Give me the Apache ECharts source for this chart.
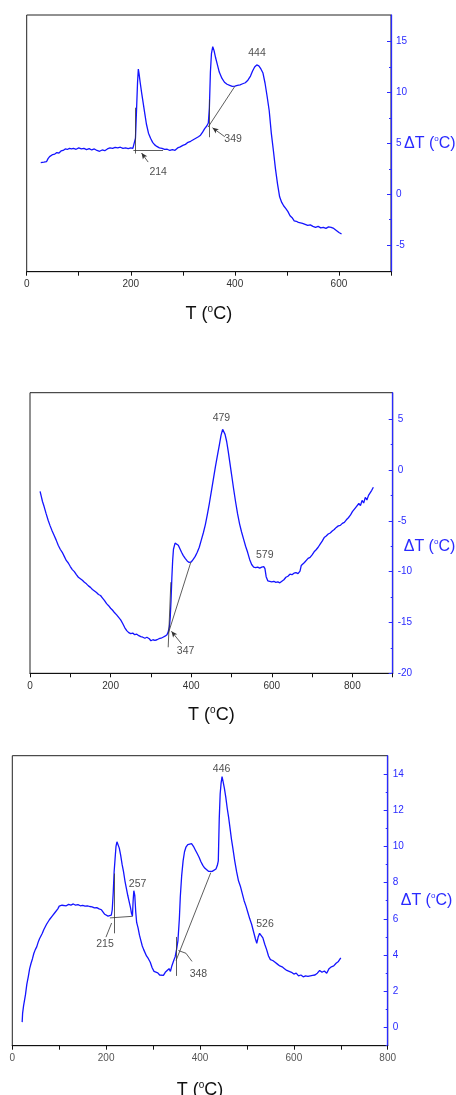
<!DOCTYPE html>
<html><head><meta charset="utf-8">
<script src="https://cdn.jsdelivr.net/npm/echarts@6/dist/echarts.min.js"></script>
<style>html,body{margin:0;padding:0;background:#fff}#c{width:456px;height:1095px}</style>
</head><body><div id="c"></div>
<script>
// ---------- Panel 1 ----------
const p1T = [27,30,33,36,38,41,44,47,50,54,58,62,66,70,74,78,82,86,90,95,100,105,110,115,120,125,130,135,140,145,150,155,160,165,170,175,180,185,190,195,200,204,207,209,211,213,214.5,216,218,221,224,227,230,234,238,242,246,250,255,260,265,270,275,280,285,290,295,300,305,310,315,320,325,330,334,338,342,346,349,351,353,355,357.5,360,363,366,370,375,380,385,390,395,400,405,410,415,420,425,430,434,438,442,446,450,454,458,462,466,470,474,478,482,486,490,494,498,502,506,510,514,518,522,526,530,535,540,545,550,555,560,565,570,575,580,585,590,595,600,605];
const p1DT = [3.1,3.2,3.15,3.3,3.2,3.5,3.7,3.65,3.9,3.95,4.1,4.05,4.25,4.3,4.45,4.4,4.5,4.45,4.5,4.42,4.55,4.45,4.5,4.38,4.48,4.35,4.45,4.3,4.22,4.35,4.28,4.45,4.55,4.5,4.6,4.55,4.62,4.5,4.55,4.48,4.55,4.5,4.6,5.5,8.2,11.0,12.3,11.8,11.0,9.9,8.9,7.9,6.9,6.0,5.5,5.1,4.85,4.7,4.55,4.5,4.4,4.42,4.3,4.38,4.32,4.55,4.65,4.8,4.9,5.1,5.2,5.35,5.5,5.65,5.8,6.1,6.45,6.7,7.0,8.5,12.0,13.8,14.5,14.1,13.4,12.8,12.0,11.4,11.0,10.8,10.7,10.6,10.62,10.7,10.75,10.85,10.95,11.2,11.6,12.1,12.5,12.7,12.6,12.3,11.9,10.9,9.6,8.2,6.0,4.3,2.5,1.0,-0.25,-0.8,-1.15,-1.4,-1.7,-2.1,-2.3,-2.6,-2.65,-2.75,-2.8,-2.85,-2.95,-3.05,-3.0,-3.15,-3.25,-3.15,-3.3,-3.25,-3.35,-3.2,-3.25,-3.35,-3.55,-3.75,-3.9];
const p1YMajor = [-5,0,5,10,15];
const p1YMinor = [-2.5,2.5,7.5,12.5];
const p1Segs = [
  [[205,4.35],[262,4.35],0],
  [[209.5,4.0],[209.5,8.5],0],
  [[233.4,3.16],[220.7,4.05],1],
  [[350,5.6],[350,9.3],0],
  [[348.6,6.6],[400,10.6],0],
  [[380.6,5.65],[357,6.53],1]
];
const p1Labels = [['214',252.6,2.2],['349',396.5,5.4],['444',442.6,13.9]];

// ---------- Panel 2 ----------
const p2T = [25,28,31,35,40,45,50,55,60,65,70,75,80,85,90,95,100,105,110,115,120,125,130,135,140,145,150,155,160,165,170,175,180,185,190,195,200,205,210,215,220,225,230,235,240,245,250,255,260,265,270,275,280,285,290,293,296,300,305,310,315,320,325,330,335,340,343,346,348,350,352,354,356,360,364,368,372,376,380,385,390,395,400,405,410,415,420,425,430,435,440,445,450,455,460,465,470,474,478,481,484,488,492,496,500,505,510,515,520,525,530,535,540,545,550,555,560,565,570,575,580,583,586,590,595,600,605,610,615,620,625,630,635,640,645,650,655,660,665,670,673,677,681,685,690,695,700,705,710,715,720,725,730,735,740,745,750,755,760,765,770,775,780,785,790,795,800,804,808,812,816,820,824,828,832,836,840,844,848,852];
const p2DT = [-2.1,-2.6,-3.1,-3.6,-4.3,-4.95,-5.5,-6.0,-6.45,-6.9,-7.4,-7.8,-8.1,-8.5,-8.9,-9.15,-9.5,-9.8,-10.0,-10.3,-10.55,-10.7,-10.85,-11.05,-11.2,-11.4,-11.55,-11.75,-11.9,-12.05,-12.25,-12.35,-12.6,-12.85,-13.15,-13.35,-13.6,-13.8,-14.05,-14.25,-14.5,-14.75,-15.1,-15.5,-15.8,-16.0,-16.1,-16.05,-16.2,-16.15,-16.3,-16.4,-16.45,-16.55,-16.45,-16.3,-16.6,-16.8,-16.7,-16.75,-16.7,-16.6,-16.55,-16.45,-16.35,-16.2,-15.9,-15.4,-14.5,-12.8,-10.6,-8.9,-7.8,-7.2,-7.1,-7.4,-7.75,-8.1,-8.4,-8.7,-8.95,-9.1,-9.05,-8.8,-8.5,-8.1,-7.6,-6.9,-6.2,-5.4,-4.4,-3.3,-2.1,-0.9,0.3,1.4,2.5,3.4,4.0,3.9,3.5,2.8,1.8,0.7,-0.4,-1.8,-3.1,-4.3,-5.3,-6.1,-6.8,-7.5,-8.1,-8.8,-9.3,-9.55,-9.6,-9.55,-9.65,-9.55,-9.5,-9.7,-10.5,-10.9,-10.95,-11.0,-10.95,-11.05,-11.0,-11.1,-10.95,-10.8,-10.55,-10.45,-10.25,-10.3,-10.15,-10.1,-10.2,-9.95,-9.4,-9.35,-9.1,-8.95,-8.7,-8.6,-8.35,-8.05,-7.85,-7.6,-7.3,-7.0,-6.65,-6.5,-6.3,-6.2,-6.0,-5.85,-5.65,-5.5,-5.45,-5.25,-5.15,-4.9,-4.7,-4.45,-4.1,-4.2,-3.7,-3.85,-3.3,-3.5,-3.0,-3.25,-2.7,-2.95,-2.5,-2.6,-2.0,-1.7];
const p2YMajor = [-20,-15,-10,-5,0,5];
const p2YMinor = [-17.5,-12.5,-7.5,-2.5,2.5];
const p2Segs = [
  [[342.9,-17.44],[349.5,-11.04],0],
  [[343,-16.1],[399,-9.08],0],
  [[376,-17.1],[351,-15.87],1]
];
const p2Labels = [['347',386,-17.77],['479',475,5.1],['579',582.5,-8.35]];

// ---------- Panel 3 ----------
const p3T = [21,22,24,26,28,31,34,37,40,43,46,49,52,55,58,61,64,67,70,73,76,79,82,85,88,91,94,97,100,103,106,110,115,120,125,130,135,140,145,150,155,160,165,170,175,180,185,190,194,197,200,204,208,211,213,215,217,219,221,223,225,228,231,234,237,240,243,246,249,252,254,256,257.5,259,261,263,265,268,271,274,277,280,283,286,290,294,298,302,306,310,314,318,322,326,330,334,337,340,344,347,350,353,356,358,361,364,367,370,374,378,382,386,390,394,398,402,406,410,414,418,422,426,430,434,437,439,441,443,445,447,449,452,455,458,461,464,467,470,474,478,482,486,490,494,498,502,506,510,514,518,521,524,527,530,534,538,542,546,550,555,560,565,570,575,580,585,590,595,600,605,610,615,620,625,630,635,640,645,650,655,660,665,670,675,680,685,690,695,700];
const p3DT = [0.3,0.8,1.2,1.5,1.8,2.4,2.8,3.25,3.55,3.8,4.1,4.3,4.45,4.7,4.9,5.05,5.2,5.4,5.5,5.7,5.8,5.95,6.0,6.15,6.2,6.35,6.3,6.55,6.7,6.6,6.75,6.8,6.72,6.8,6.76,6.82,6.75,6.78,6.72,6.74,6.7,6.72,6.68,6.66,6.6,6.62,6.55,6.5,6.4,6.25,6.3,6.15,6.1,6.2,6.5,7.4,8.6,9.3,10.0,10.25,10.2,9.9,9.5,9.0,8.6,8.1,7.7,7.3,6.95,6.6,6.3,6.15,7.0,7.55,7.3,6.4,5.8,5.5,5.1,4.8,4.5,4.3,4.2,3.95,3.8,3.6,3.3,3.1,3.0,3.02,2.9,2.98,2.88,3.05,3.0,3.25,3.1,3.4,3.7,3.9,4.3,4.8,6.0,7.2,8.4,9.2,9.7,9.95,10.1,10.05,10.15,10.0,9.8,9.6,9.4,9.15,8.95,8.8,8.7,8.62,8.6,8.62,8.6,8.75,8.95,9.2,11.5,12.9,13.5,13.85,13.6,13.2,12.7,12.1,11.6,11.0,10.4,9.9,9.2,8.6,8.1,7.8,7.4,7.0,6.7,6.35,6.0,5.7,5.3,4.9,4.65,5.0,5.2,5.1,4.95,4.6,4.3,3.95,3.75,3.7,3.6,3.5,3.4,3.35,3.25,3.15,3.1,3.05,2.95,3.0,2.85,2.9,2.8,2.85,2.82,2.85,2.88,2.9,3.0,3.15,3.05,3.12,3.0,3.25,3.35,3.4,3.55,3.65,3.85];
const p3YMajor = [0,2,4,6,8,10,12,14];
const p3YMinor = [-1,1,3,5,7,9,11,13];
const p3Segs = [
  [[208,6.05],[256.5,6.14],0],
  [[217.5,5.2],[217.5,8.5],0],
  [[199.6,4.99],[211.7,5.77],0],
  [[348.5,2.85],[348.5,5.0],0],
  [[349,3.7],[423,8.55],0],
  [[354,4.25],[370,4.1],0],
  [[370,4.1],[383,3.65],0]
];
const p3Labels = [['215',197.5,4.59],['257',267,7.92],['348',396.6,2.96],['446',446,14.28],['526',538.6,5.73]];

// ---------- build ----------
const FONT = 'Liberation Sans, Arial, sans-serif';
const BLUE = '#2a2aff';
const panels = [
  {T:p1T, D:p1DT, xmax:700, ymin:-7.6, ymax:17.6, maj:p1YMajor, min:p1YMinor, segs:p1Segs, labels:p1Labels,
   grid:{left:26.7, top:15, width:364.3, height:256.7}, yGap:13, yPad:[0,0,0,0], xGap:33, xLabelColor:'#333'},
  {T:p2T, D:p2DT, xmax:900, ymin:-20, ymax:7.6, maj:p2YMajor, min:p2YMinor, segs:p2Segs, labels:p2Labels,
   grid:{left:30, top:392.7, width:362.7, height:280.6}, yGap:11, yPad:[27,0,0,0], xGap:32, xLabelColor:'#333'},
  {T:p3T, D:p3DT, xmax:800, ymin:-1, ymax:15, maj:p3YMajor, min:p3YMinor, segs:p3Segs, labels:p3Labels,
   grid:{left:12.3, top:755.7, width:375.4, height:290}, yGap:13, yPad:[0,0,0,0], xGap:35, xLabelColor:'#555'}
];

const option = {animation:false, backgroundColor:'#fff', grid:[], xAxis:[], yAxis:[], series:[]};
panels.forEach((p, i) => {
  option.grid.push(Object.assign({show:true, borderColor:'#222', borderWidth:1, containLabel:false, outerBoundsMode:'none'}, p.grid));
  option.xAxis.push({
    gridIndex:i, type:'value', min:0, max:p.xmax, interval:100,
    axisLine:{onZero:false, lineStyle:{color:'#111', width:1.2}},
    axisTick:{inside:false, length:4, lineStyle:{color:'#111'}},
    axisLabel:{formatter:v => (v % 200 === 0 ? String(v) : ''), fontSize:10, color:p.xLabelColor, margin:8, fontFamily:FONT},
    splitLine:{show:false},
    name:'T ({s|o}C)', nameLocation:'middle', nameGap:p.xGap, nameMoveOverlap:false,
    nameTextStyle:{fontSize:18, color:'#111', fontFamily:FONT,
      rich:{s:{fontSize:10, color:'#111', fontFamily:FONT, padding:[0,0,9,0]}}}
  });
  option.yAxis.push({
    gridIndex:i, type:'value', position:'right', min:p.ymin, max:p.ymax,
    axisLine:{show:true, onZero:false, lineStyle:{color:BLUE, width:1.3}},
    axisTick:{show:true, inside:true, length:4, customValues:p.maj, lineStyle:{color:BLUE}},
    axisLabel:{customValues:p.maj, fontSize:10, color:BLUE, margin:5, fontFamily:FONT},
    splitLine:{show:false},
    name:'\u0394T ({s|o}C)', nameLocation:'middle', nameRotate:0, nameGap:p.yGap, nameMoveOverlap:false,
    nameTextStyle:{fontSize:16, color:BLUE, fontFamily:FONT, align:'left', padding:p.yPad,
      rich:{s:{fontSize:8, color:BLUE, fontFamily:FONT, padding:[0,0,9,0]}}}
  });
  option.yAxis.push({
    gridIndex:i, type:'value', position:'right', min:p.ymin, max:p.ymax,
    axisLine:{show:false, onZero:false},
    axisTick:{show:true, inside:true, length:2, customValues:p.min, lineStyle:{color:BLUE}},
    axisLabel:{show:false}, splitLine:{show:false}
  });
  const yIdx = i * 2;
  option.series.push({
    type:'line', xAxisIndex:i, yAxisIndex:yIdx, showSymbol:false, symbol:'none', silent:true,
    lineStyle:{color:'#1414ff', width:1.3}, data:p.T.map((t, k) => [t, p.D[k]]), z:3
  });
  option.series.push({
    type:'scatter', xAxisIndex:i, yAxisIndex:yIdx, symbolSize:1, silent:true, z:4,
    itemStyle:{color:'rgba(0,0,0,0)'},
    label:{show:true, position:'inside', formatter:q => q.data[2], fontSize:10.5, color:'#222', fontFamily:FONT},
    data:p.labels.map(l => [l[1], l[2], l[0]]),
    markLine:{
      silent:true, animation:false, symbol:['none','none'], precision:3,
      label:{show:false}, emphasis:{disabled:true},
      lineStyle:{color:'#333', width:0.8, type:'solid'},
      data:p.segs.map(s => [
        {coord:s[0], symbol:'none'},
        {coord:s[1], symbol:s[2] ? 'arrow' : 'none', symbolSize:s[2] ? [4,6] : 0}
      ])
    }
  });
});

const chart = echarts.init(document.getElementById('c'), null, {renderer:'canvas'});
chart.setOption(option);
</script>
</body></html>
